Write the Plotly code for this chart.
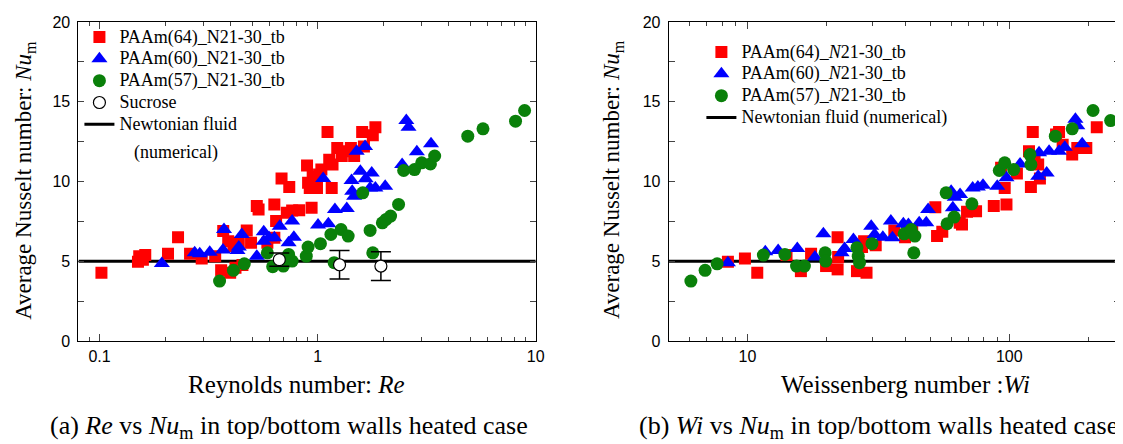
import numpy as np
import plotly.graph_objects as go

# ---------------- (a) Re vs Nu_m ----------------
re_paam64 = [0.102, 0.150, 0.152, 0.162, 0.158, 0.206, 0.229, 0.260, 0.294, 0.339, 0.361, 0.397,
             0.369, 0.389, 0.411, 0.435, 0.473, 0.495, 0.526, 0.536, 0.452, 0.633, 0.645, 0.633,
             0.683, 0.741, 0.722, 0.764, 0.823, 0.894, 0.938, 0.904, 0.920, 0.949, 0.993, 1.015,
             1.04, 1.11, 1.13, 1.16, 1.17, 1.23, 1.29, 1.36, 1.42, 1.47, 1.60, 1.63, 1.79, 1.84,
             0.588, 0.42]
nu_paam64_a = [4.28, 4.97, 5.32, 5.39, 5.10, 5.47, 6.51, 5.47, 5.18, 5.32, 4.43, 4.28,
               6.90, 6.26, 5.95, 6.16, 6.93, 6.16, 8.46, 8.25, 4.76, 8.56, 7.52, 6.47,
               10.19, 9.65, 8.04, 8.18, 8.20, 11.0, 8.35, 9.92, 9.60, 10.3, 9.60, 10.44,
               10.75, 13.1, 11.37, 9.60, 11.06, 12.1, 11.6, 11.9, 12.1, 11.6, 13.1, 12.2, 12.9, 13.4,
               6.16, 4.60]

re_paam60 = [0.193, 0.273, 0.288, 0.320, 0.368, 0.372, 0.429, 0.435, 0.449, 0.526, 0.566, 0.566,
             0.599, 0.633, 0.670, 0.736, 0.764, 0.778, 1.004, 1.06, 1.12, 1.20, 1.36, 1.44,
             1.47, 1.43, 1.51, 1.57, 1.65, 1.66, 1.74, 1.77, 1.84, 2.04, 2.44, 2.55, 2.61,
             2.85, 3.31]
nu_paam60_a = [4.86, 5.53, 5.47, 5.57, 5.70, 6.99, 5.68, 5.89, 6.68, 5.32, 6.85, 6.26,
               6.47, 6.47, 7.20, 6.16, 7.52, 6.51, 7.27, 10.19, 7.35, 8.25, 8.31, 9.39,
               9.08, 10.06, 11.9, 10.65, 12.2, 10.17, 9.60, 10.54, 9.60, 9.71, 11.06, 13.82, 13.4,
               11.86, 12.36]

re_paam57 = [0.355, 0.411, 0.461, 0.588, 0.622, 0.696, 0.736, 0.764, 0.887, 0.904, 1.03, 1.15,
             1.19, 1.28, 1.38, 1.61, 1.74, 1.79, 1.98, 2.06, 2.16, 2.35, 2.48, 2.78, 3.00,
             3.29, 3.44, 4.88, 5.73, 8.08, 8.89]
nu_paam57_a = [3.76, 4.43, 4.84, 5.53, 4.66, 4.70, 5.43, 5.01, 5.32, 5.89, 6.10, 6.68,
               4.91, 6.99, 6.58, 9.29, 6.93, 5.53, 7.41, 7.62, 7.83, 8.56, 10.69, 10.75, 11.17,
               11.10, 11.60, 12.84, 13.30, 13.78, 14.45]

re_sucrose = [0.667, 1.26, 1.95]
nu_sucrose = [5.10, 4.78, 4.70]
nu_sucrose_err = [0.42, 0.89, 0.90]

re_range = [0.08, 10]
wi_range = [5, 265]
nu_newtonian = 5.0

# ---------------- (b) Wi vs Nu_m ----------------
wi_paam64 = [8.42, 9.78, 10.9, 14.1, 16.0, 17.5, 19.97, 22.1, 22.1, 22.2, 26.2, 28.5, 27.4, 27.9,
             30.9, 36.4, 42.6, 53.0, 52.2, 55.5, 64.7, 69.0, 74.7, 87.3, 97.6, 93.1, 96.1, 107,
             121, 119, 123, 125, 129, 131, 151, 155, 160, 174, 182, 197, 216, 66, 40]
nu_paam64_b = [4.97, 5.18, 4.28, 5.39, 4.38, 5.47, 4.70, 6.51, 4.49, 5.26, 4.38, 4.28, 5.89, 6.26,
               6.01, 6.93, 6.89, 6.58, 8.39, 6.85, 7.41, 8.10, 8.14, 8.46, 8.56, 10.86, 9.60, 10.50,
               9.65, 11.90, 13.10, 11.44, 11.06, 10.19, 12.94, 13.10, 12.30, 11.70, 12.10, 12.10, 13.40,
               7.30, 6.50]

wi_paam60 = [8.42, 11.7, 13.1, 15.5, 18.1, 19.5, 22.9, 23.5, 25.4, 29.7, 30.6, 32.9, 35.3, 35.8,
             39.4, 41.2, 45.3, 48.2, 49.0, 60.0, 60.9, 61.9, 64.9, 72.5, 75.9, 79.4, 90.0, 97.6,
             110, 129, 130, 139, 142, 163, 179, 182, 190, 155]
nu_paam60_b = [4.90, 5.60, 5.68, 5.80, 5.26, 6.72, 5.53, 5.80, 6.37, 7.20, 6.68, 6.51, 7.52, 6.47,
               7.35, 7.31, 7.41, 7.41, 8.25, 9.39, 8.35, 9.02, 9.19, 9.60, 9.65, 9.77, 9.71, 10.23,
               11.10, 10.33, 11.80, 10.54, 11.90, 12.15, 13.90, 13.50, 12.36, 11.90]

wi_paam57 = [6.08, 6.89, 7.66, 11.5, 13.9, 15.4, 16.5, 19.8, 19.9, 26.2, 26.5, 26.8, 29.9, 39.7,
             42.2, 43.6, 43.2, 57.4, 57.9, 61.6, 72.0, 91.6, 96.1, 104, 120, 121, 150, 174, 209, 244]
nu_paam57_b = [3.76, 4.43, 4.84, 5.39, 5.43, 4.70, 4.70, 5.53, 5.01, 5.85, 5.32, 4.91, 6.10, 6.72,
               6.99, 6.58, 5.53, 9.29, 7.35, 7.77, 8.60, 10.69, 11.17, 10.75, 11.69, 11.06, 12.84,
               13.30, 14.45, 13.82]

y_ticks = [0, 5, 10, 15, 20]

RED = "#ff0000"
BLUE = "#0000ff"
GREEN = "#0a800a"
SERIF = "Liberation Serif"
SANS = "Liberation Sans"

W, H = 1123, 444
fig = go.Figure()


def lg(s):
    # legend label drawn at 18px while the row height follows the legend font size
    return '<span style="font-size:18px">' + s + '</span>'


# Newtonian lines
fig.add_trace(go.Scatter(x=re_range, y=[nu_newtonian] * 2, mode="lines",
                         line=dict(color="black", width=3), name=lg("Newtonian fluid"),
                         legendrank=5, xaxis="x", yaxis="y", legend="legend"))
fig.add_trace(go.Scatter(x=wi_range, y=[nu_newtonian] * 2, mode="lines",
                         line=dict(color="black", width=3), name=lg("Newtonian fluid (numerical)"),
                         legendrank=5, xaxis="x2", yaxis="y2", legend="legend2"))

# Panel (a)
fig.add_trace(go.Scatter(x=re_paam64, y=nu_paam64_a, mode="markers", name=lg("PAAm(64)_N21-30_tb"),
                         marker=dict(symbol="square", size=12, color=RED, line=dict(width=0)),
                         legendrank=1, xaxis="x", yaxis="y", legend="legend"))
fig.add_trace(go.Scatter(x=re_paam60, y=nu_paam60_a, mode="markers", name=lg("PAAm(60)_N21-30_tb"),
                         marker=dict(symbol="triangle-up", size=14, color=BLUE, line=dict(width=0)),
                         legendrank=2, xaxis="x", yaxis="y", legend="legend"))
fig.add_trace(go.Scatter(x=re_paam57, y=nu_paam57_a, mode="markers", name=lg("PAAm(57)_N21-30_tb"),
                         marker=dict(symbol="circle", size=13, color=GREEN, line=dict(width=0)),
                         legendrank=3, xaxis="x", yaxis="y", legend="legend"))
fig.add_trace(go.Scatter(x=re_sucrose, y=nu_sucrose, mode="markers", name=lg("Sucrose"),
                         marker=dict(symbol="circle", size=12, color="white",
                                     line=dict(width=1.2, color="black")),
                         error_y=dict(type="data", array=nu_sucrose_err, visible=True,
                                      color="black", thickness=1.5, width=10),
                         legendrank=4, xaxis="x", yaxis="y", legend="legend"))

# Panel (b)
fig.add_trace(go.Scatter(x=wi_paam64, y=nu_paam64_b, mode="markers", name=lg("PAAm(64)_<i>N</i>21-30_tb"),
                         marker=dict(symbol="square", size=12, color=RED, line=dict(width=0)),
                         legendrank=1, xaxis="x2", yaxis="y2", legend="legend2"))
fig.add_trace(go.Scatter(x=wi_paam60, y=nu_paam60_b, mode="markers", name=lg("PAAm(60)_<i>N</i>21-30_tb"),
                         marker=dict(symbol="triangle-up", size=14, color=BLUE, line=dict(width=0)),
                         legendrank=2, xaxis="x2", yaxis="y2", legend="legend2"))
fig.add_trace(go.Scatter(x=wi_paam57, y=nu_paam57_b, mode="markers", name=lg("PAAm(57)_<i>N</i>21-30_tb"),
                         marker=dict(symbol="circle", size=13, color=GREEN, line=dict(width=0)),
                         legendrank=3, xaxis="x2", yaxis="y2", legend="legend2"))

PLOT_TOP, PLOT_BOT = 14, 333
ph = PLOT_BOT - PLOT_TOP


def px_x(p):
    return p / W


def px_y(p):
    return (PLOT_BOT - p) / ph


common_y = dict(range=[0, 20], tickmode="array", tickvals=y_ticks, ticks="inside", ticklen=6,
                showline=True, linecolor="black", linewidth=1, mirror="ticks",
                showgrid=False, zeroline=False, tickfont=dict(family=SANS, size=16, color="black"),
                minor=dict(ticks="inside", ticklen=6, dtick=2.5, tick0=0, showgrid=False),
                ticklabelstandoff=4)
common_x = dict(type="log", tickmode="linear", tick0=0, dtick=1, ticks="inside", ticklen=7,
                showline=True, linecolor="black", linewidth=1, mirror="ticks",
                showgrid=False, zeroline=False, tickfont=dict(family=SANS, size=16, color="black"),
                minor=dict(ticks="inside", ticklen=4, dtick="D1", showgrid=False),
                ticklabelstandoff=1)

LEG_FONT = dict(family=SERIF, size=14.5, color="black")
fig.update_layout(
    width=W, height=H,
    margin=dict(l=0, r=0, t=PLOT_TOP, b=H - PLOT_BOT),
    paper_bgcolor="white", plot_bgcolor="white",
    xaxis=dict(domain=[px_x(71), px_x(532)], range=[np.log10(re_range[0]), np.log10(re_range[1])],
               anchor="y", **common_x),
    yaxis=dict(domain=[0, 1], anchor="x", **common_y),
    xaxis2=dict(domain=[px_x(666), px_x(1121)], range=[np.log10(wi_range[0]), np.log10(wi_range[1])],
                anchor="y2", **common_x),
    yaxis2=dict(domain=[0, 1], anchor="x2", **common_y),
    legend=dict(x=px_x(72), y=px_y(13), xanchor="left", yanchor="top",
                bgcolor="rgba(0,0,0,0)", tracegroupgap=0, traceorder="normal", font=LEG_FONT),
    legend2=dict(x=px_x(699), y=px_y(28), xanchor="left", yanchor="top",
                 bgcolor="rgba(0,0,0,0)", tracegroupgap=0, traceorder="normal", font=LEG_FONT),
    showlegend=True,
)

annotations = [
    dict(text="(numerical)", x=px_x(125), y=px_y(144), xanchor="left", yanchor="middle",
         font=dict(family=SERIF, size=18, color="black")),
    dict(text="Average Nusselt number: <i>Nu</i><sub>m</sub>", x=px_x(17), y=px_y(172),
         textangle=-90, xanchor="center", yanchor="middle",
         font=dict(family=SERIF, size=23, color="black")),
    dict(text="Average Nusselt number: <i>Nu</i><sub>m</sub>", x=px_x(610), y=px_y(172),
         textangle=-90, xanchor="center", yanchor="middle",
         font=dict(family=SERIF, size=23, color="black")),
    dict(text="Reynolds number: <i>Re</i>", x=px_x(291), y=px_y(376),
         xanchor="center", yanchor="middle", font=dict(family=SERIF, size=25, color="black")),
    dict(text="Weissenberg number :<i>Wi</i>", x=px_x(905), y=px_y(376),
         xanchor="center", yanchor="middle", font=dict(family=SERIF, size=25, color="black")),
    dict(text="(a) <i>Re</i> vs <i>Nu</i><sub>m</sub> in top/bottom walls heated case",
         x=px_x(283), y=px_y(419), xanchor="center", yanchor="middle",
         font=dict(family=SERIF, size=26, color="black")),
    dict(text="(b) <i>Wi</i> vs <i>Nu</i><sub>m</sub> in top/bottom walls heated case",
         x=px_x(878), y=px_y(419), xanchor="center", yanchor="middle",
         font=dict(family=SERIF, size=26, color="black")),
]
for a in annotations:
    a.update(xref="paper", yref="paper", showarrow=False)
fig.update_layout(annotations=annotations)

fig.write_html("out.html")
